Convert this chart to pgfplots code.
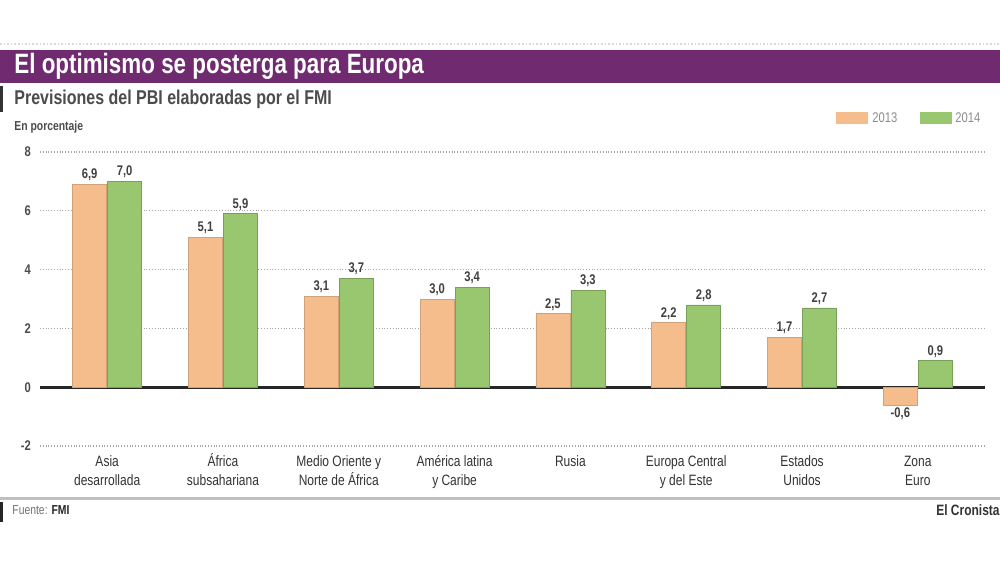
\documentclass[border=0pt]{standalone}
\usepackage{fontspec}
\setmainfont{Liberation Sans}
\newfontfamily\cond[FakeStretch=0.8]{Liberation Sans}
\usepackage{pgfplots}
\pgfplotsset{compat=1.18}
\definecolor{naranja}{RGB}{246,189,140}
\definecolor{verde}{RGB}{152,199,112}
\definecolor{morado}{RGB}{112,42,112}
\begin{document}
\begin{tikzpicture}[x=1pt,y=1pt]
\useasboundingbox (0,0) rectangle (500,285);
\fill[white] (0,0) rectangle (500,285);
\draw[gray!30, densely dotted, line width=0.8pt] (0,263) -- (500,263);
\fill[morado] (0,243.5) rectangle (500,260);
\node[anchor=west, text=white, font=\cond\bfseries\fontsize{14}{14}\selectfont, inner sep=0pt] at (7,251.75) {El optimismo se posterga para Europa};
\fill[black!80] (0,229) rectangle (1.5,242);
\node[anchor=west, text=black!70, font=\cond\bfseries\fontsize{10}{10}\selectfont, inner sep=0pt] at (7,235.5) {Previsiones del PBI elaboradas por el FMI};
\node[anchor=west, text=black!70, font=\cond\bfseries\fontsize{6.5}{6.5}\selectfont, inner sep=0pt] at (7,221.5) {En porcentaje};
% legend
\fill[naranja] (418,223) rectangle (434,229);
\node[anchor=west, text=black!45, font=\cond\fontsize{7}{7}\selectfont, inner sep=0pt] at (436,226) {2013};
\fill[verde] (460,223) rectangle (476,229);
\node[anchor=west, text=black!45, font=\cond\fontsize{7}{7}\selectfont, inner sep=0pt] at (477.5,226) {2014};
\begin{axis}[
  at={(20pt,62pt)}, anchor=south west, scale only axis,
  x=, y=,
  width=472.5pt, height=147pt,
  ymin=-2, ymax=8, xmin=-0.58, xmax=7.58,
  axis line style={draw=none},
  major tick length=0pt,
  ytick={-2,0,2,4,6,8},
  ymajorgrids, grid style={densely dotted, black!35, line width=0.6pt},
  extra y ticks={0}, extra y tick labels={},
  extra y tick style={grid style={black!85, line width=1.3pt, solid}},
  xtick={0,...,7},
  xticklabels={{\strut Asia\\desarrollada},{\strut África\\subsahariana},{\strut Medio Oriente y\\Norte de África},{\strut América latina\\y Caribe},{\strut Rusia},{\strut Europa Central\\y del Este},{\strut Estados\\Unidos},{\strut Zona\\Euro}},
  xticklabel style={align=center, font=\cond\fontsize{7.5}{9.5}\selectfont, text=black!80, anchor=north, yshift=0pt},
  yticklabel style={font=\cond\bfseries\fontsize{7}{7}\selectfont, text=black!70, xshift=-1pt},
  /pgf/number format/assume math mode=true,
  ybar, bar width=17pt,
  nodes near coords,
  nodes near coords style={font=\cond\bfseries\fontsize{7}{7}\selectfont, text=black!75, inner sep=1.5pt,
    /pgf/number format/.cd, fixed, fixed zerofill, precision=1, use comma, assume math mode=true},
  clip=false,
]
\addplot[fill=naranja, draw=naranja!85!black, line width=0.3pt, bar shift=-8.75pt] coordinates {
 (0,6.9) (1,5.1) (2,3.1) (3,3.0) (4,2.5) (5,2.2) (6,1.7) (7,-0.6)};
\addplot[fill=verde, draw=verde!80!black, line width=0.3pt, bar shift=8.75pt] coordinates {
 (0,7.0) (1,5.9) (2,3.7) (3,3.4) (4,3.3) (5,2.8) (6,2.7) (7,0.9)};
\end{axis}
% footer
\draw[black!25, line width=1.5pt] (0,36) -- (500,36);
\fill[black!85] (0,24) rectangle (1.5,34);
\node[anchor=west, text=black!55, font=\cond\fontsize{6.5}{6.5}\selectfont, inner sep=0pt] at (6,30) {Fuente: \textcolor{black!85}{\bfseries FMI}};
\node[anchor=east, text=black!80, font=\cond\bfseries\fontsize{7.5}{7.5}\selectfont, inner sep=0pt] at (500,30) {El Cronista};
\end{tikzpicture}
\end{document}
